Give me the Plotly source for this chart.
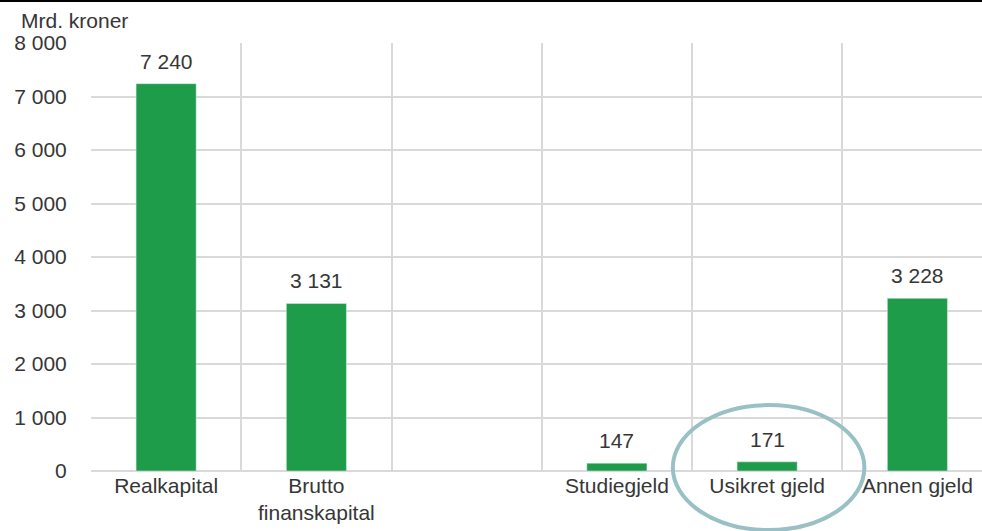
import plotly.graph_objects as go

# Formue og gjeld, mrd. kroner
categories = ["Realkapital", "Brutto<br>finanskapital", " ", "Studiegjeld", "Usikret gjeld", "Annen gjeld"]
values = [7240, 3131, None, 147, 171, 3228]

GREEN = "#1e9c4a"
GRID = "#d9d9d9"
TEXT = "#363636"
FONT = "Liberation Sans, Arial, sans-serif"
SIZE = 21


def fmt(v):
    return f"{v:,}".replace(",", " ")


fig = go.Figure()
fig.add_trace(go.Bar(
    x=categories, y=values,
    marker_color=GREEN, width=0.4,
    hoverinfo="skip",
))

# value labels above the bars
for c, v in zip(categories, values):
    if v is None:
        continue
    fig.add_annotation(x=c, y=v, text=fmt(v), showarrow=False,
                       yanchor="bottom", yshift=9,
                       font=dict(size=SIZE, color=TEXT, family=FONT))

fig.update_layout(
    width=982, height=531,
    margin=dict(l=91, r=0, t=43, b=60),
    plot_bgcolor="white", paper_bgcolor="white",
    font=dict(family=FONT, size=SIZE, color=TEXT),
    separators=", ",
    showlegend=False,
)

fig.update_xaxes(
    type="category",
    range=[-0.5, 5.43],
    tickson="boundaries",
    showgrid=True, gridcolor=GRID, gridwidth=2,
    ticks="outside", ticklen=3, tickcolor="rgba(0,0,0,0)",
    showline=False, zeroline=False,
    tickfont=dict(size=SIZE, color=TEXT),
)
fig.update_yaxes(
    range=[0, 8000], dtick=1000, tickformat=",d",
    showgrid=True, gridcolor=GRID, gridwidth=2,
    zeroline=True, zerolinecolor=GRID, zerolinewidth=2,
    ticks="outside", ticklen=19, tickcolor="rgba(0,0,0,0)",
    tickfont=dict(size=SIZE, color=TEXT),
)

# unit label
fig.add_annotation(xref="paper", yref="paper", x=-0.081, y=1.053,
                   xanchor="left", yanchor="middle", showarrow=False,
                   text="Mrd. kroner", font=dict(size=SIZE, color=TEXT, family=FONT))

# black line along the top
fig.add_shape(type="line", xref="paper", yref="paper",
              x0=-0.103, x1=1.0, y0=1.098, y1=1.098,
              line=dict(color="black", width=2))

# ring around "Usikret gjeld"
fig.add_shape(type="circle", xref="paper", yref="paper",
              x0=0.653, x1=0.868, y0=-0.138, y1=0.154,
              line=dict(color="#99c0c5", width=4))

fig.write_html("out.html", config={"displayModeBar": False},
               post_script="document.body.style.margin = '0';")
